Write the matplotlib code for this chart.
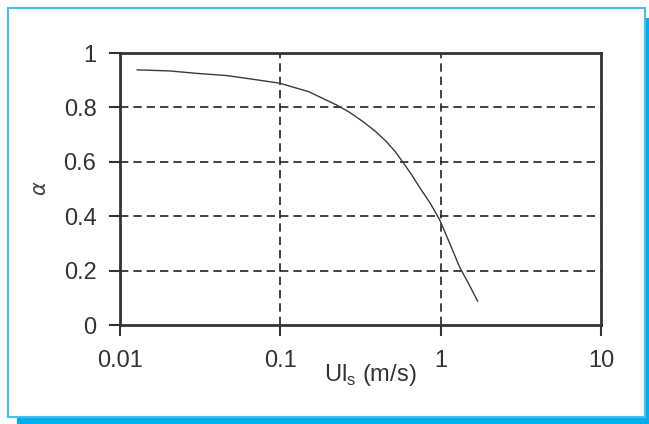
import numpy as np
import matplotlib
matplotlib.use('Agg')
import matplotlib.pyplot as plt
from matplotlib.patches import Rectangle

# liquid superficial velocity (m/s) and void fraction alpha
ul_s = [0.0128, 0.0205, 0.0302, 0.0464, 0.0664, 0.099, 0.15, 0.224, 0.27,
        0.327, 0.39, 0.459, 0.52, 0.579, 0.66, 0.739, 0.86, 0.987, 1.13,
        1.31, 1.5, 1.70]
alpha = [0.938, 0.934, 0.925, 0.917, 0.904, 0.889, 0.858, 0.809, 0.782,
         0.748, 0.713, 0.674, 0.638, 0.600, 0.552, 0.506, 0.448, 0.386, 0.305,
         0.214, 0.150, 0.088]

x_ticks = [0.01, 0.1, 1, 10]
x_tick_labels = ['0.01', '0.1', '1', '10']
y_ticks = [0, 0.2, 0.4, 0.6, 0.8, 1]
y_tick_labels = ['0', '0.2', '0.4', '0.6', '0.8', '1']

plt.rcParams['font.family'] = ['Liberation Sans', 'DejaVu Sans']

W, H = 649, 424
fig = plt.figure(figsize=(W / 100, H / 100), dpi=100)


def box(x0, y0, x1, y1, **kw):
    # rectangle given in pixel coords measured from the top-left corner
    return Rectangle((x0 / W, 1 - y1 / H), (x1 - x0) / W, (y1 - y0) / H,
                     transform=fig.transFigure, **kw)


# cyan drop shadow, then the white panel with a thin border
fig.patches.append(box(17, 18, 649, 424, facecolor='#00aeef', edgecolor='none', zorder=0))
fig.patches.append(box(7.5, 7.5, 644.5, 416.5, facecolor='white',
                       edgecolor='#45c0ee', linewidth=1.5, zorder=1))

ax = fig.add_axes([120 / W, 1 - 325 / H, (601 - 120) / W, (325 - 53) / H])
ax.set_zorder(5)
ax.set_facecolor('none')

ax.plot(ul_s, alpha, color='#3a3a3a', linewidth=1.0, zorder=3)

ax.set_xscale('log')
ax.set_xlim(0.01, 10)
ax.set_ylim(0, 1)
ax.set_xticks(x_ticks)
ax.set_xticklabels(x_tick_labels)
ax.set_yticks(y_ticks)
ax.set_yticklabels(y_tick_labels)
ax.xaxis.set_minor_locator(matplotlib.ticker.NullLocator())

ax.tick_params(axis='both', direction='out', length=8, width=1.5,
               color='#333333', labelsize=17, labelcolor='#333333')
ax.tick_params(axis='x', pad=10)
ax.tick_params(axis='y', pad=9)

for sp in ax.spines.values():
    sp.set_color('#333333')
    sp.set_linewidth(2)

# dashed grid inside the frame
for gx in [0.1, 1]:
    ax.axvline(gx, color='#222222', linewidth=1.2, dashes=(5, 3), zorder=2)
for gy in [0.2, 0.4, 0.6, 0.8]:
    ax.axhline(gy, color='#222222', linewidth=1.2, dashes=(5, 3), zorder=2)

fig.text(370 / W, 1 - 375 / H, r'Ul$_\mathregular{s}$ (m/s)', fontsize=17,
         color='#333333', ha='center', va='center', zorder=6)
fig.text(40 / W, 1 - 188 / H, r'$\alpha$', fontsize=15, color='#444444',
         rotation=90, ha='center', va='center', zorder=6)

fig.savefig('out.png', dpi=100)
